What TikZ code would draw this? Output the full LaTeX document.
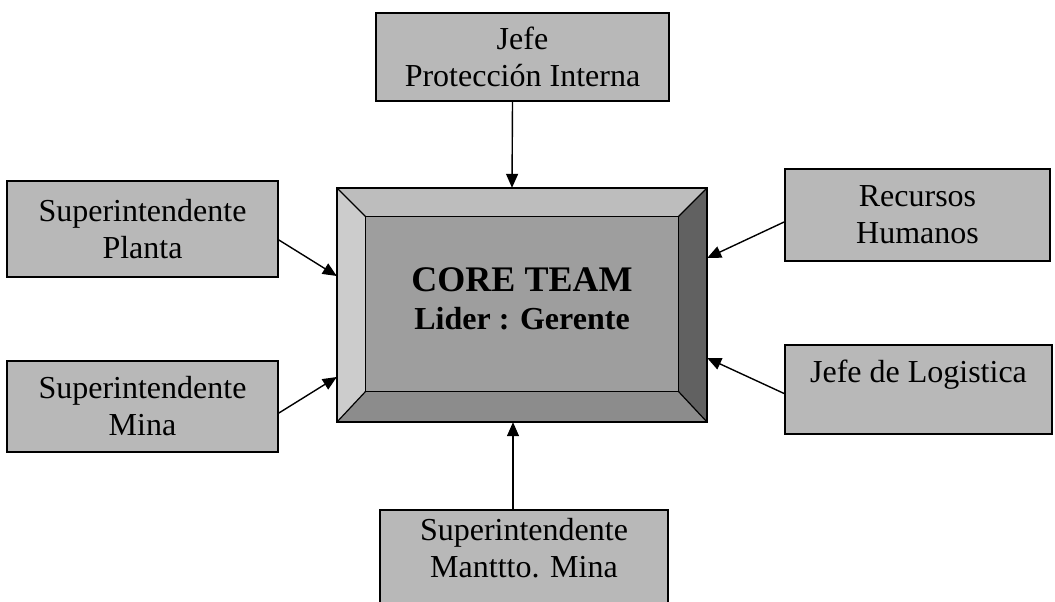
\documentclass[tikz,border=0pt]{standalone}
\usepackage{fontspec}
\setmainfont{Liberation Serif}
\usetikzlibrary{calc,arrows.meta}
\definecolor{boxgray}{gray}{0.72}
\definecolor{coreface}{gray}{0.62}
\definecolor{bevtop}{gray}{0.74}
\definecolor{bevleft}{gray}{0.80}
\definecolor{bevbottom}{gray}{0.55}
\definecolor{bevright}{gray}{0.38}
\begin{document}
\begin{tikzpicture}[x=1pt,y=-1pt,
  unit/.style={draw=black, line width=1.8pt, fill=boxgray, align=center,
    font=\fontsize{32}{37}\selectfont, inner sep=0pt},
  plain/.style={align=center, font=\fontsize{32}{37}\selectfont, inner sep=0pt},
  link/.style={line width=1.4pt, -{Triangle[length=14pt,width=12pt]}},
  bevel/.style={draw=black, line width=1.2pt, line join=miter}]
\useasboundingbox (0,0) rectangle (1055,602);

% surrounding units
\node[unit, minimum width=293pt, minimum height=88pt] (top) at (522.5,57)
  {Jefe\\Protección Interna};
\node[unit, minimum width=271pt, minimum height=96pt] (pl) at (142.5,229)
  {Superintendente\\Planta};
\node[unit, minimum width=271pt, minimum height=91pt] (mi) at (142.5,406.5)
  {Superintendente\\Mina};
\node[unit, minimum width=265pt, minimum height=92pt] (rh) at (917.5,215)
  {Recursos\\Humanos};
\node[unit, minimum width=267pt, minimum height=89pt] (lo) at (918.5,389.5)
  {Jefe de Logistica\\\mbox{}};
\node[unit, minimum width=288pt, minimum height=110pt, anchor=north] (mm) at (524,509) {};
\node[plain] (mmtext) at (524,548) {Superintendente\\Manttto. Mina};

% bevelled core box
\node[draw=none, minimum width=370pt, minimum height=234pt, inner sep=0pt] (core) at (522,305) {};
\coordinate (ia) at ($(core.north west)+(29,29)$);
\coordinate (ib) at ($(core.north east)+(-29,29)$);
\coordinate (ic) at ($(core.south east)+(-29,-31)$);
\coordinate (id) at ($(core.south west)+(29,-31)$);
\fill[bevtop] (core.north west) -- (core.north east) -- (ib) -- (ia) -- cycle;
\fill[bevleft] (core.north west) -- (ia) -- (id) -- (core.south west) -- cycle;
\fill[bevbottom] (core.south west) -- (id) -- (ic) -- (core.south east) -- cycle;
\fill[bevright] (core.north east) -- (core.south east) -- (ic) -- (ib) -- cycle;
\fill[coreface] (ia) rectangle (ic);
\draw[bevel] (core.north west) -- (ia) (core.north east) -- (ib)
  (core.south east) -- (ic) (core.south west) -- (id);
\draw[bevel] (ia) rectangle (ic);
\draw[black, line width=1.8pt] (core.north west) rectangle (core.south east);
\node[align=center, inner sep=0pt, font=\bfseries\fontsize{32}{38}\selectfont] (coretext)
  at ($(core.center)+(0,-6)$)
  {{\fontsize{36}{38}\selectfont CORE TEAM}\\Lider : Gerente};

% connectors into the core
\draw[link] ($(top.south)+(-10,0)$) -- ($(core.north)+(-10,0)$);
\draw[link] ($(mm.north)+(-11,0)$) -- ($(core.south)+(-9,0)$);
\draw[link] ($(pl.east)+(0,11)$) -- ($(core.west)+(0,-29)$);
\draw[link] ($(mi.east)+(0,6.5)$) -- ($(core.west)+(0,72)$);
\draw[link] ($(rh.west)+(0,7)$) -- ($(core.east)+(0,-47)$);
\draw[link] ($(lo.west)+(0,4)$) -- ($(core.east)+(0,53)$);
\end{tikzpicture}
\end{document}
